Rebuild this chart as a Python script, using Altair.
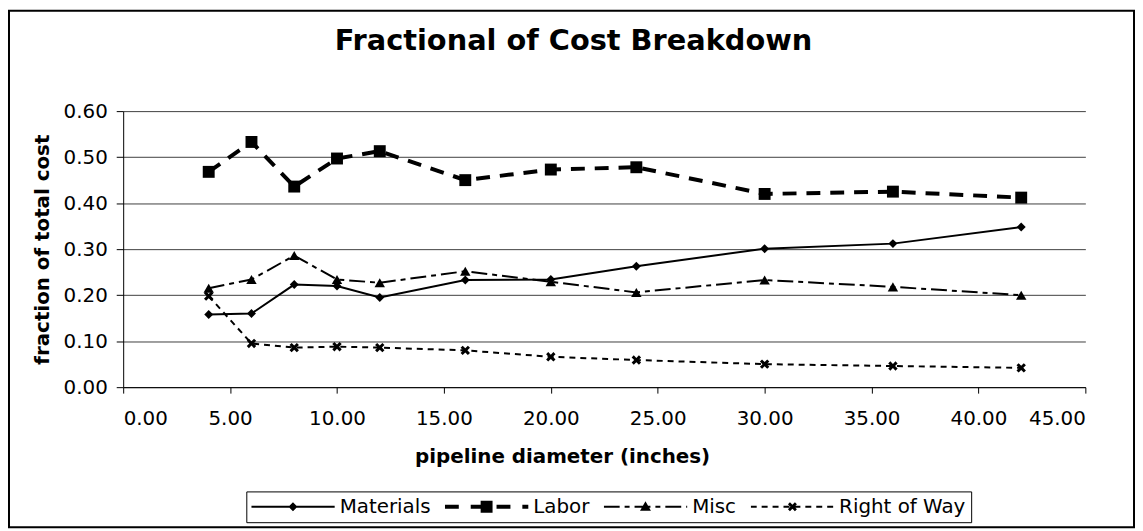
import altair as alt
import pandas as pd

# ---------------- data ----------------
diameter = [4, 6, 8, 10, 12, 16, 20, 24, 30, 36, 42]
materials = [0.158, 0.160, 0.223, 0.220, 0.195, 0.233, 0.234, 0.263, 0.301, 0.312, 0.348]
labor = [0.468, 0.533, 0.436, 0.497, 0.513, 0.450, 0.473, 0.478, 0.420, 0.425, 0.412]
misc = [0.215, 0.234, 0.286, 0.234, 0.227, 0.252, 0.229, 0.206, 0.233, 0.218, 0.200]
right_of_way = [0.198, 0.095, 0.086, 0.088, 0.086, 0.080, 0.066, 0.059, 0.050, 0.046, 0.042]
series_names = ["Materials", "Labor", "Misc", "Right of Way"]
x_ticks = [0, 5, 10, 15, 20, 25, 30, 35, 40, 45]
y_ticks = [0.0, 0.1, 0.2, 0.3, 0.4, 0.5, 0.6]

rows = []
for name, vals in zip(series_names, [materials, labor, misc, right_of_way]):
    for d, v in zip(diameter, vals):
        rows.append({"diameter": d, "fraction": v, "series": name})
df = pd.DataFrame(rows)

# ---------------- layout ----------------
W, H = 1135, 523
L, T = 116, 102
PW, PH = 969, 278
FONT = "DejaVu Sans"

XPATH = ("M-1,-0.55L-0.55,-1L0,-0.45L0.55,-1L1,-0.55L0.45,0L1,0.55L0.55,1"
         "L0,0.45L-0.55,1L-1,0.55L-0.45,0Z")

styles = {
    "Materials": dict(width=2, dash=None, shape="diamond", size=81),
    "Labor": dict(width=4, dash=[14, 10], shape="square", size=144),
    "Misc": dict(width=2, dash=[16, 5, 5, 5], shape="triangle-up", size=110),
    "Right of Way": dict(width=2, dash=[6, 5], shape=XPATH, size=90),
}

# legend symbol paths (line sample + marker), in units of half symbol width
HALF = 42.0


def f(v):
    return f"{v / HALF:.4f}"


def rect(x0, x1, h):
    return f"M{f(x0)},{f(-h / 2)}L{f(x1)},{f(-h / 2)}L{f(x1)},{f(h / 2)}L{f(x0)},{f(h / 2)}Z"


def dashed(pattern, h):
    out = []
    x = -HALF
    i = 0
    if pattern is None:
        return rect(-HALF, HALF, h)
    while x < HALF:
        seg = pattern[i % len(pattern)]
        if i % 2 == 0:
            out.append(rect(x, min(x + seg, HALF), h))
        x += seg
        i += 1
    return "".join(out)


def poly(pts):
    return "M" + "L".join(f"{f(a)},{f(b)}" for a, b in pts) + "Z"


legend_paths = [
    dashed(None, 2) + poly([(-4.5, 0), (0, -4.5), (4.5, 0), (0, 4.5)]),
    dashed([14, 12], 4) + poly([(-6, -6), (6, -6), (6, 6), (-6, 6)]),
    dashed([16, 5, 5, 5], 2) + poly([(0, -5.5), (5.5, 4), (-5.5, 4)]),
    dashed([6, 5], 2) + poly([(-4.5, -2.5), (-2.5, -4.5), (0, -2), (2.5, -4.5), (4.5, -2.5), (2, 0),
                              (4.5, 2.5), (2.5, 4.5), (0, 2), (-2.5, 4.5), (-4.5, 2.5), (-2, 0)]),
]

x_enc = alt.X(
    "diameter:Q",
    scale=alt.Scale(domain=[0, 45], nice=False, zero=False),
    axis=alt.Axis(
        values=x_ticks, format=".2f", title="pipeline diameter (inches)", grid=False,
        titleX=442, titleY=70, titleAlign="center", titleBaseline="middle", titleAngle=0,
        labelPadding=16, tickSize=6,
    ),
)
y_enc = alt.Y(
    "fraction:Q",
    scale=alt.Scale(domain=[0, 0.6], nice=False),
    axis=alt.Axis(
        values=y_ticks, format=".2f", title="fraction of total cost", grid=True,
        titleX=-81, titleY=139, titleAlign="center", titleBaseline="middle", titleAngle=-90,
        labelPadding=9, tickSize=7,
    ),
)

base = alt.Chart(df)
layers = []

frame = alt.Chart(pd.DataFrame({"k": [0]})).mark_rect(
    filled=False, stroke="black", strokeWidth=2
).encode(
    x=alt.value(1 - L), x2=alt.value(W - 1 - L),
    y=alt.value(1 - T), y2=alt.value(H - 2 - T),
)
layers.append(frame)

for name in series_names:
    st = styles[name]
    sub = base.transform_filter(alt.datum.series == name)
    line_kwargs = dict(color="black", strokeWidth=st["width"], strokeCap="butt")
    if st["dash"] is not None:
        line_kwargs["strokeDash"] = st["dash"]
    layers.append(sub.mark_line(**line_kwargs).encode(x=x_enc, y=y_enc))
    layers.append(
        sub.mark_point(shape=st["shape"], size=st["size"], filled=True, color="black",
                       opacity=1, strokeWidth=0).encode(x=x_enc, y=y_enc)
    )

legend_layer = base.transform_filter("false").mark_point(
    filled=True, color="black", opacity=1
).encode(
    x=x_enc, y=y_enc,
    shape=alt.Shape(
        "series:N",
        scale=alt.Scale(domain=series_names, range=legend_paths),
        legend=alt.Legend(
            title=None, orient="none", legendX=124, legendY=383, direction="horizontal",
            labelFont=FONT, labelFontSize=20, labelColor="black", labelOffset=5,
            symbolSize=7056, symbolStrokeWidth=0, symbolFillColor="black", symbolOpacity=1,
            symbolOffset=0, columnPadding=14, padding=5, strokeColor="black", fillColor="white",
            labelLimit=0, clipHeight=21,
        ),
    ),
)
layers.append(legend_layer)

chart = alt.layer(*layers).properties(
    width=PW, height=PH,
    autosize=alt.AutoSizeParams(type="none"),
    padding={"left": L, "top": T, "right": W - L - PW, "bottom": H - T - PH},
    title=alt.Title(
        "Fractional of Cost Breakdown", font=FONT, fontSize=29, fontWeight="bold",
        color="black", anchor="middle", dx=-31, offset=-69, frame="group",
        baseline="alphabetic",
    ),
).configure(
    font=FONT, background="white",
).configure_view(
    stroke=None,
).configure_axis(
    labelFont=FONT, labelFontSize=20, labelColor="black",
    titleFont=FONT, titleFontSize=20, titleFontWeight="bold", titleColor="black",
    domainColor="black", domainWidth=1, tickColor="black", tickWidth=1,
    gridColor="#404040", gridWidth=1,
)

chart.save("out.html", embed_options={"renderer": "svg", "actions": False})
